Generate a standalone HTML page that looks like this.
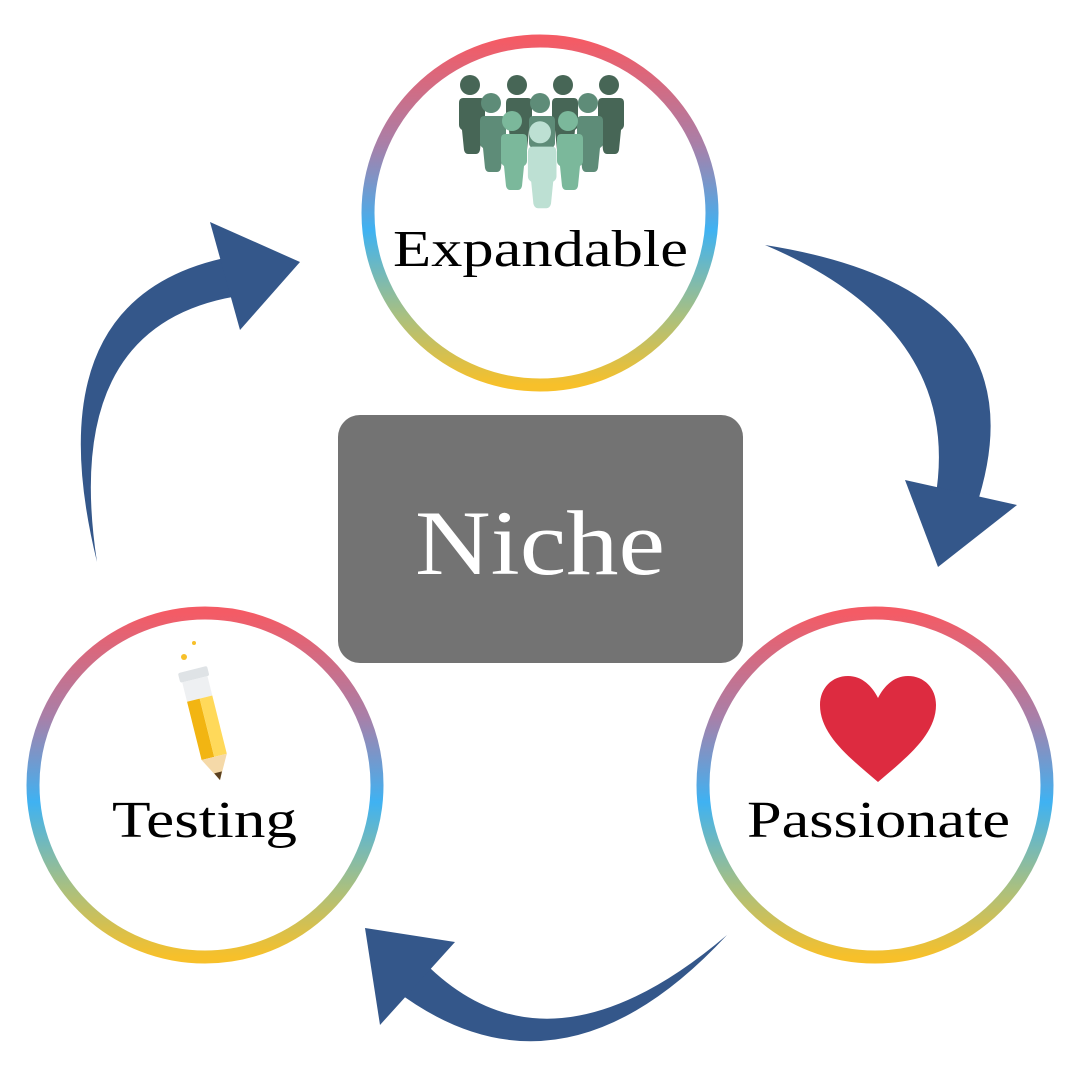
<!DOCTYPE html>
<html><head><meta charset="utf-8"><style>
html,body{margin:0;padding:0;background:#fff}
svg{display:block}
text{font-family:"Liberation Serif",serif}
</style></head><body>
<svg width="1080" height="1080" viewBox="0 0 1080 1080" xmlns="http://www.w3.org/2000/svg">
<defs>
<linearGradient id="g" x1="0" y1="0" x2="0" y2="1">
<stop offset="0" stop-color="#f45b65"/>
<stop offset="0.3" stop-color="#a97fa8"/>
<stop offset="0.55" stop-color="#3fb2f2"/>
<stop offset="0.8" stop-color="#a9c080"/>
<stop offset="1" stop-color="#f7c02a"/>
</linearGradient>
<g id="p"><circle cx="0" cy="0" r="10"/><path d="M-11,13 h22 q4,0 4,5 v22 q0,3 -3,5 l-2,20 q-1,4 -4,4 h-8 q-3,0 -4,-4 l-2,-20 q-3,-2 -3,-5 v-22 q0,-5 4,-5z"/></g>
</defs>
<circle cx="540" cy="213" r="172" fill="#fff" stroke="url(#g)" stroke-width="13"/>
<circle cx="205" cy="785" r="172" fill="#fff" stroke="url(#g)" stroke-width="13"/>
<circle cx="875" cy="785" r="172" fill="#fff" stroke="url(#g)" stroke-width="13"/>
<g fill="#476656"><use href="#p" x="470" y="85"/><use href="#p" x="517" y="85"/><use href="#p" x="563" y="85"/><use href="#p" x="609" y="85"/></g>
<g fill="#5e8c78"><use href="#p" x="491" y="103"/><use href="#p" x="540" y="103"/><use href="#p" x="588" y="103"/></g>
<g fill="#7bb89b"><use href="#p" x="512" y="121"/><use href="#p" x="568" y="121"/></g>
<g fill="#bde0d3"><use href="#p" x="540" y="133" transform="translate(-54,-14) scale(1.1)"/></g>
<text x="393" y="266" font-size="52" textLength="295" lengthAdjust="spacingAndGlyphs" fill="#000">Expandable</text>
<path d="M878,782 C850,758 820,735 820,705 C820,688 832,676 848,676 C862,676 872,686 878,698 C884,686 894,676 908,676 C924,676 936,688 936,705 C936,735 906,758 878,782Z" fill="#dd2b40"/>
<text x="747" y="837" font-size="52" textLength="263" lengthAdjust="spacingAndGlyphs" fill="#000">Passionate</text>
<g transform="rotate(-14 205 720)">
<rect x="190" y="668" width="30" height="10" rx="2" fill="#dfe3e6"/>
<rect x="192" y="678" width="26" height="20" fill="#eef0f2"/>
<rect x="192" y="698" width="13" height="60" fill="#f2b512"/>
<rect x="205" y="698" width="13" height="60" fill="#ffd95a"/>
<path d="M192,758 L218,758 L205,782Z" fill="#f5d9a8"/>
<path d="M201,774 L209,774 L205,782Z" fill="#5a4020"/>
</g>
<circle cx="184" cy="657" r="3" fill="#f7c02a"/><circle cx="194" cy="643" r="2" fill="#f7c02a"/>
<text x="112" y="837" font-size="52" textLength="185" lengthAdjust="spacingAndGlyphs" fill="#000">Testing</text>
<rect x="338" y="415" width="405" height="248" rx="22" fill="#737373"/>
<text x="415" y="574" font-size="92" textLength="250" lengthAdjust="spacingAndGlyphs" fill="#fff">Niche</text>
<g fill="#34578a">
<path d="M765,245 Q1050,290 975,510 L935,500 Q965,330 765,245Z"/>
<path d="M905,480 L1017,505 L938,567Z"/>
<path d="M97,562 Q30,290 240,255 L245,295 Q60,320 97,562Z"/>
<path d="M210,222 L300,262 L240,330Z"/>
<path d="M727,935 Q560,1115 395,990 L420,958 Q545,1090 727,935Z"/>
<path d="M365,928 L455,942 L380,1025Z"/>
</g>
</svg>
</body></html>
